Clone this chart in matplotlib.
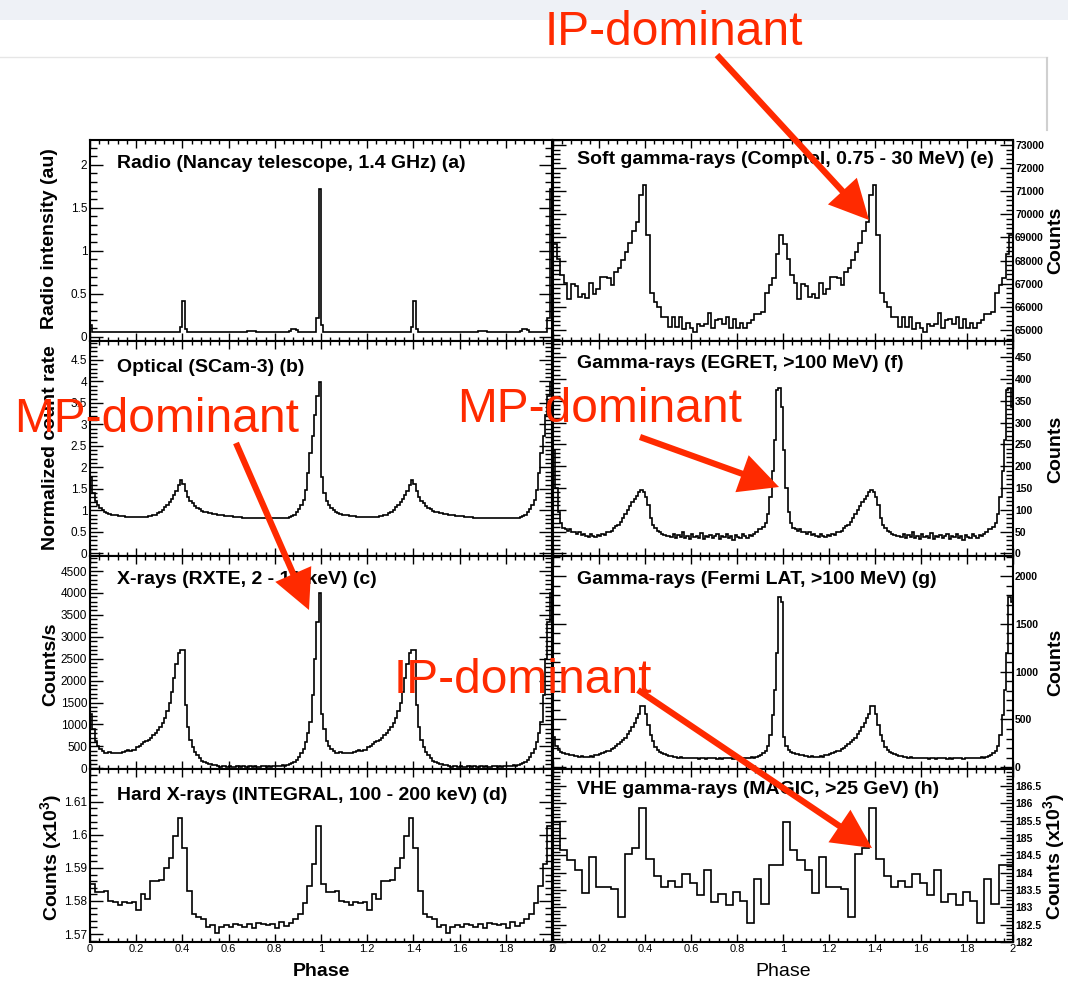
import numpy as np
import matplotlib
matplotlib.use("Agg")
import matplotlib.pyplot as plt
from matplotlib.ticker import MultipleLocator, FuncFormatter
from matplotlib.patches import FancyArrowPatch, Rectangle
from matplotlib.lines import Line2D

plt.rcParams['font.family'] = ['Liberation Sans', 'DejaVu Sans']
plt.rcParams['mathtext.fontset'] = 'custom'
plt.rcParams['mathtext.rm'] = 'Liberation Sans'
plt.rcParams['mathtext.bf'] = 'Liberation Sans:bold'

# Light curves of one rotation (bins over phase 0-1), drawn twice (phase 0-2)
radio = [0.14, 0.06, 0.05, 0.055, 0.05, 0.05, 0.055, 0.05, 0.05, 0.055,
         0.05, 0.05, 0.055, 0.05, 0.05, 0.05, 0.055, 0.05, 0.055, 0.05,
         0.05, 0.055, 0.05, 0.05, 0.055, 0.05, 0.05, 0.055, 0.05, 0.055,
         0.05, 0.055, 0.05, 0.05, 0.055, 0.05, 0.055, 0.055, 0.06, 0.11,
         0.42, 0.09, 0.055, 0.05, 0.05, 0.055, 0.05, 0.055, 0.05, 0.05,
         0.055, 0.05, 0.055, 0.05, 0.05, 0.055, 0.05, 0.055, 0.05, 0.055,
         0.055, 0.05, 0.055, 0.055, 0.06, 0.055, 0.06, 0.06, 0.065, 0.07,
         0.07, 0.065, 0.06, 0.055, 0.055, 0.05, 0.055, 0.05, 0.055, 0.05,
         0.05, 0.055, 0.05, 0.055, 0.055, 0.06, 0.07, 0.085, 0.09, 0.075,
         0.06, 0.055, 0.05, 0.05, 0.055, 0.05, 0.055, 0.06, 0.22, 1.72]

optical = [1.78, 1.40, 1.22, 1.12, 1.05, 1.00, 0.96, 0.93, 0.91, 0.90,
           0.89, 0.88, 0.87, 0.86, 0.86, 0.85, 0.85, 0.84, 0.84, 0.84,
           0.84, 0.84, 0.85, 0.85, 0.85, 0.86, 0.87, 0.88, 0.90, 0.93,
           0.96, 1.01, 1.07, 1.12, 1.19, 1.27, 1.35, 1.46, 1.58, 1.71,
           1.62, 1.45, 1.31, 1.22, 1.16, 1.10, 1.06, 1.02, 0.99, 0.97,
           0.96, 0.94, 0.93, 0.92, 0.91, 0.90, 0.89, 0.88, 0.87, 0.87,
           0.86, 0.86, 0.85, 0.85, 0.84, 0.84, 0.83, 0.83, 0.83, 0.83,
           0.82, 0.82, 0.82, 0.82, 0.82, 0.82, 0.82, 0.82, 0.82, 0.82,
           0.82, 0.82, 0.82, 0.82, 0.83, 0.83, 0.84, 0.86, 0.90, 0.95,
           1.02, 1.12, 1.24, 1.48, 1.86, 2.33, 2.72, 3.22, 3.65, 3.98]

xray = [1250, 900, 620, 500, 430, 390, 360, 350, 370, 355,
        345, 360, 340, 355, 375, 400, 410, 405, 420, 415,
        480, 510, 550, 590, 620, 650, 700, 750, 800, 870,
        950, 1040, 1140, 1300, 1480, 1750, 2050, 2390, 2620, 2710,
        2710, 1450, 950, 650, 480, 380, 300, 230, 175, 140,
        115, 100, 90, 75, 65, 55, 40, 60, 45, 35,
        55, 40, 30, 50, 45, 35, 55, 40, 30, 45,
        35, 50, 40, 30, 55, 45, 35, 50, 40, 60,
        45, 55, 50, 65, 60, 75, 90, 110, 140, 185,
        260, 340, 450, 600, 800, 1060, 1670, 2500, 3340, 3990]

# INTEGRAL counts, in units of 10^3
hard_xray = [1.5852, 1.5828, 1.5828, 1.5830, 1.5799, 1.5798, 1.5787, 1.5796, 1.5795, 1.5796,
             1.5772, 1.5822, 1.5806, 1.5859, 1.5859, 1.5862, 1.5900, 1.5929, 1.5996, 1.6050,
             1.5959, 1.5831, 1.5760, 1.5752, 1.5745, 1.5722, 1.5727, 1.5702, 1.5722, 1.5727,
             1.5720, 1.5730, 1.5727, 1.5722, 1.5730, 1.5717, 1.5734, 1.5730, 1.5728, 1.5729,
             1.5717, 1.5737, 1.5725, 1.5733, 1.5745, 1.5760, 1.5795, 1.5845, 1.5912, 1.6028]

comptel = [68739, 68073, 67377, 67029, 66333, 67000, 66884, 66420, 66551, 66377,
           67029, 66565, 66768, 67290, 67290, 67247, 66957, 67493, 67681, 68044,
           68362, 68768, 69261, 69667, 70826, 71261, 69087, 66594, 66189, 66015,
           65580, 65580, 65145, 65580, 65145, 65580, 65029, 65290, 65072, 64928,
           65261, 65174, 65246, 65754, 65072, 65435, 65478, 65261, 65551, 65101,
           65478, 65072, 65290, 65072, 65319, 65435, 65681, 65681, 65797, 66594,
           66957, 67247, 68304, 69087]

egret = [237, 150, 95, 70, 58, 55, 52, 55, 48, 50,
         45, 48, 42, 44, 40, 38, 44, 40, 38, 42,
         40, 45, 42, 48, 50, 52, 58, 62, 65, 72,
         80, 90, 100, 108, 118, 125, 132, 140, 145, 140,
         130, 110, 80, 65, 58, 52, 48, 45, 42, 40,
         40, 38, 45, 35, 42, 38, 48, 36, 40, 34,
         44, 37, 41, 35, 46, 33, 40, 38, 43, 36,
         39, 45, 34, 41, 37, 44, 35, 40, 31, 42,
         38, 35, 45, 39, 36, 42, 40, 45, 50, 55,
         55, 60, 70, 90, 130, 190, 260, 375, 380, 335]

fermi = [320, 225, 180, 160, 150, 140, 135, 128, 132, 120,
         115, 110, 118, 112, 105, 112, 118, 110, 125, 130,
         138, 145, 155, 165, 175, 190, 205, 220, 240, 260,
         285, 310, 345, 380, 420, 460, 510, 560, 645, 640,
         560, 440, 340, 270, 215, 180, 160, 145, 135, 128,
         120, 115, 108, 110, 100, 105, 98, 102, 95, 100,
         92, 98, 95, 90, 100, 94, 88, 96, 92, 98,
         95, 90, 97, 88, 94, 100, 92, 96, 90, 95,
         98, 92, 100, 95, 102, 98, 105, 100, 110, 118,
         128, 145, 175, 220, 337, 546, 807, 1190, 1776, 1723]

# MAGIC counts, in units of 10^3
magic = [185.47, 184.66, 184.37, 184.09, 183.42, 184.45, 183.59, 183.59,
         183.53, 182.71, 184.54, 184.71, 185.86, 184.38, 183.90, 183.58,
         183.77, 183.58, 183.96, 183.69, 183.35, 184.07, 183.15, 183.39,
         183.08, 183.43, 183.18, 182.55, 183.83, 183.11, 184.23, 184.23]

titles = ['Radio (Nancay telescope, 1.4 GHz) (a)',
          'Optical (SCam-3) (b)',
          'X-rays (RXTE, 2 - 10 keV) (c)',
          'Hard X-rays (INTEGRAL, 100 - 200 keV) (d)',
          'Soft gamma-rays (Comptel, 0.75 - 30 MeV) (e)',
          'Gamma-rays (EGRET, >100 MeV) (f)',
          'Gamma-rays (Fermi LAT, >100 MeV) (g)',
          'VHE gamma-rays (MAGIC, >25 GeV) (h)']

W, H = 1068, 981
COLS = [(90, 552), (553, 1013)]
ROWS = [(140, 341), (341, 556), (556, 769), (769, 942)]
RED = '#ff2a00'


def fx(x):
    return x / W


def fy(y):
    return 1 - y / H


fig = plt.figure(figsize=(W / 100, H / 100), dpi=100)

# screenshot frame around the figure
fig.add_artist(Rectangle((0, fy(20)), 1, 20 / H, transform=fig.transFigure,
                         facecolor='#eef1f6', edgecolor='none', zorder=-5))
fig.add_artist(Line2D([0, fx(1047)], [fy(57), fy(57)], transform=fig.transFigure,
                      color='#e6e6e6', lw=1))
fig.add_artist(Line2D([fx(1047), fx(1047)], [fy(58), fy(130)], transform=fig.transFigure,
                      color='#d0d0d0', lw=1.5))

fmt = FuncFormatter(lambda v, p: f'{v:g}')


def panel(col, row, cycle, ylim, major, minor, title):
    x0, x1 = COLS[col]
    y0, y1 = ROWS[row]
    ax = fig.add_axes([fx(x0), fy(y1), (x1 - x0) / W, (y1 - y0) / H])
    vals = np.tile(cycle, 2)
    edges = np.linspace(0, 2, len(vals) + 1)
    ax.stairs(vals, edges, baseline=None, color='black', lw=1.2)
    ax.set_xlim(0, 2)
    ax.set_ylim(*ylim)
    ax.xaxis.set_major_locator(MultipleLocator(0.2))
    ax.xaxis.set_minor_locator(MultipleLocator(0.04))
    ax.yaxis.set_major_locator(MultipleLocator(major))
    ax.yaxis.set_minor_locator(MultipleLocator(minor))
    ax.xaxis.set_major_formatter(fmt)
    ax.yaxis.set_major_formatter(fmt)
    ax.tick_params(which='both', direction='in', top=True, bottom=True,
                   left=True, right=True, width=1)
    ax.tick_params(axis='y', which='major', length=9.5)
    ax.tick_params(axis='y', which='minor', length=5)
    ax.tick_params(axis='x', which='major', length=5.5)
    ax.tick_params(axis='x', which='minor', length=3)
    ax.tick_params(axis='x', labelbottom=(row == 3), labelsize=8, pad=1.5)
    if col == 0:
        ax.tick_params(axis='y', labelleft=True, labelright=False, labelsize=8.5, pad=2)
    else:
        ax.tick_params(axis='y', labelleft=False, labelright=True, labelsize=7.5, pad=1.5)
        plt.setp(ax.get_yticklabels(), fontweight='bold')
    for s in ax.spines.values():
        s.set_linewidth(1.5)
    ax.text(((117 if col == 0 else 577) - x0) / (x1 - x0), 0, title,
            transform=ax.transAxes, fontsize=14, fontweight='bold', va='center')
    return ax


title_y = [164, 367, 580, 796, 160, 363, 579, 790]
specs = [(0, 0, radio, (-0.05, 2.29), 0.5, 0.1),
         (0, 1, optical, (-0.063, 4.94), 0.5, 0.1),
         (0, 2, xray, (-16, 4843), 500, 100),
         (0, 3, hard_xray, (1.5676, 1.6199), 0.01, 0.002),
         (1, 0, comptel, (64524, 73216), 1000, 200),
         (1, 1, egret, (-6, 487), 50, 10),
         (1, 2, fermi, (-18, 2209), 500, 100),
         (1, 3, magic, (182.0, 186.99), 0.5, 0.1)]

for i, (col, row, data, ylim, major, minor) in enumerate(specs):
    ax = panel(col, row, data, ylim, major, minor, titles[i])
    # place title at its pixel height
    y0, y1 = ROWS[row]
    ax.texts[0].set_y((y1 - title_y[i]) / (y1 - y0))

# axis titles
lab = dict(fontsize=14, fontweight='bold', rotation=90, ha='center', va='center')
fig.text(fx(50), fy(239), 'Radio intensity (au)', **lab)
fig.text(fx(51), fy(448), 'Normalized count rate', **lab)
fig.text(fx(51), fy(664), 'Counts/s', **lab)
fig.text(fx(52), fy(857), r'Counts (x10$^{\mathbf{3}}$)', **lab)
fig.text(fx(1056), fy(240), 'Counts', **lab)
fig.text(fx(1056), fy(449), 'Counts', **lab)
fig.text(fx(1056), fy(662), 'Counts', **lab)
fig.text(fx(1055), fy(856), r'Counts (x10$^{\mathbf{3}}$)', **lab)
fig.text(fx(321), fy(972), 'Phase', fontsize=14, fontweight='bold', ha='center', va='center')
fig.text(fx(783), fy(972), 'Phase', fontsize=14, ha='center', va='center')

# red annotations: label, text centre x, baseline y, arrow tail, arrow tip
notes = [('IP-dominant', 674, 45, (717, 55), (869, 220)),
         ('MP-dominant', 157, 432, (236, 443), (309, 610)),
         ('MP-dominant', 600, 422, (640, 437), (779, 487)),
         ('IP-dominant', 523, 693, (638, 690), (872, 848))]

for text, tx, ty, tail, tip in notes:
    fig.text(fx(tx), fy(ty), text, fontsize=34.5, color=RED,
             ha='center', va='baseline', zorder=20)
    arr = FancyArrowPatch((fx(tail[0]), fy(tail[1])), (fx(tip[0]), fy(tip[1])),
                          transform=fig.transFigure,
                          arrowstyle='-|>,head_length=21,head_width=10.5',
                          mutation_scale=1, lw=4.5, color=RED,
                          shrinkA=0, shrinkB=0, joinstyle='miter',
                          capstyle='butt', zorder=21)
    fig.add_artist(arr)

fig.savefig('out.png', dpi=100)
